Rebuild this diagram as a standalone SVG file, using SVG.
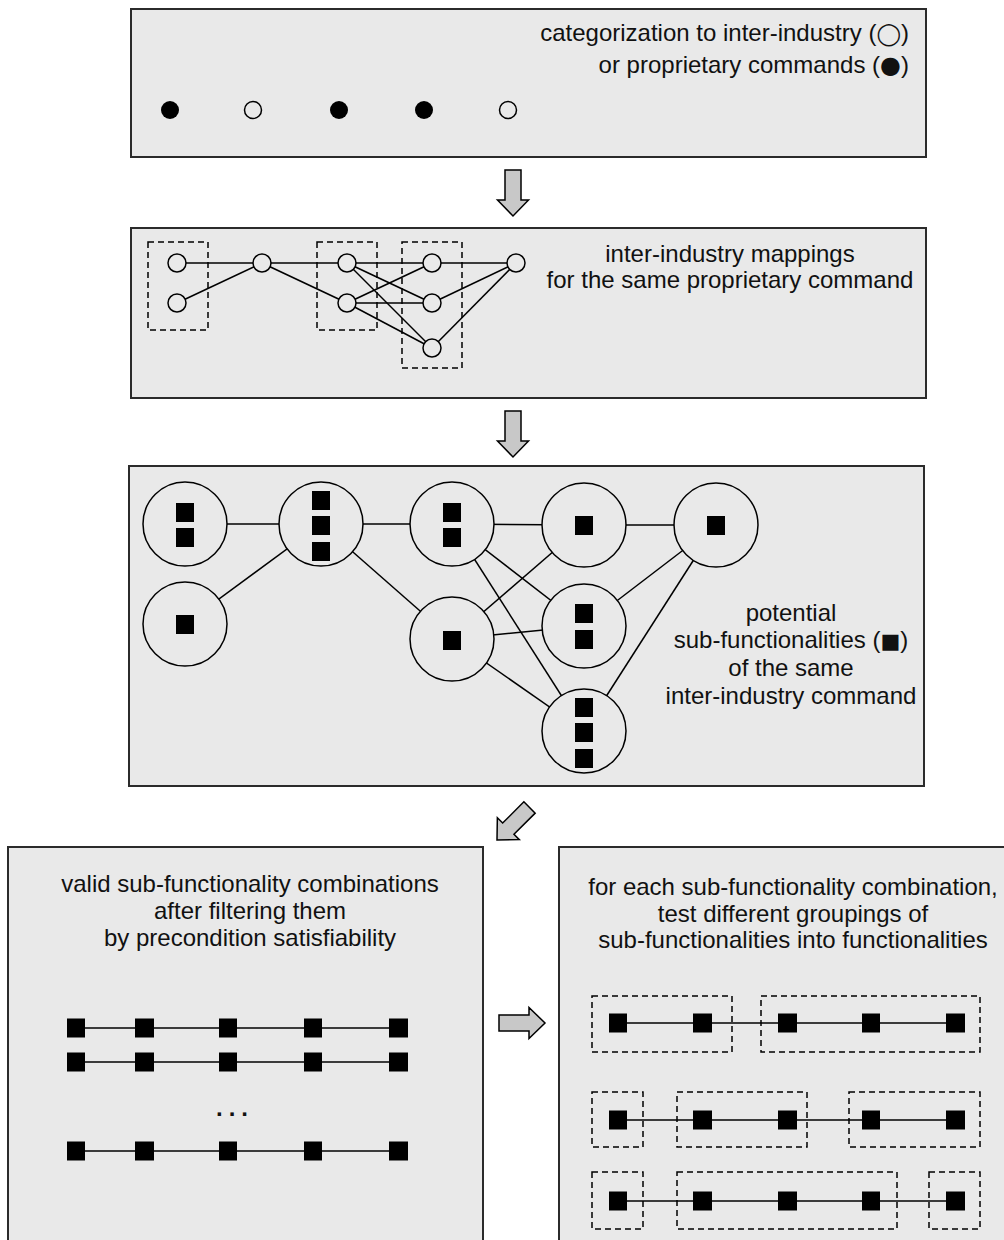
<svg xmlns="http://www.w3.org/2000/svg" xmlns:xlink="http://www.w3.org/1999/xlink" width="1004" height="1240" viewBox="0 0 1004 1240">
  <style>
    .box { fill:#e9e9e9; stroke:#2b2b2b; stroke-width:2; }
    .edge { stroke:#000; stroke-width:1.5; fill:none; }
    .dash { fill:none; stroke:#000; stroke-width:1.5; stroke-dasharray:6 4; }
    .node { fill:#e9e9e9; stroke:#000; stroke-width:1.5; }
    .dot { fill:#000; }
    .sq { fill:#000; }
    .txt { font-family:"Liberation Sans","DejaVu Sans",sans-serif; font-size:24px; fill:#111; }
    .sym { font-family:"DejaVu Sans",sans-serif; }
    .arrow { fill:#c8c8c8; stroke:#000; stroke-width:1.5; stroke-linejoin:miter; }
  </style>
  <defs>
    <!-- block arrow, tip at origin, pointing +y -->
    <path id="blockArrow" d="M -8,-46 L 8,-46 L 8,-16 L 15.5,-16 L 0,0 L -15.5,-16 L -8,-16 Z"/>
  </defs>

  <!-- stage 1: command categorization -->
  <g id="stage1">
    <rect class="box" x="131" y="9" width="795" height="148"/>
    <text class="txt" x="909" y="41" text-anchor="end">categorization to inter-industry (<tspan class="sym" font-size="22">◯</tspan>)</text>
    <text class="txt" x="909" y="73" text-anchor="end">or proprietary commands (<tspan class="sym" font-size="24">●</tspan>)</text>
    <circle class="dot" cx="170" cy="110" r="9"/>
    <circle class="node" cx="253" cy="110" r="8.5" style="fill:none"/>
    <circle class="dot" cx="339" cy="110" r="9"/>
    <circle class="dot" cx="424" cy="110" r="9"/>
    <circle class="node" cx="508" cy="110" r="8.5" style="fill:none"/>
  </g>

  <!-- stage 2: inter-industry mappings -->
  <g id="stage2">
    <rect class="box" x="131" y="228" width="795" height="170"/>
    <text class="txt" x="730" y="262" text-anchor="middle">inter-industry mappings</text>
    <text class="txt" x="730" y="288" text-anchor="middle">for the same proprietary command</text>
    <rect class="dash" x="148" y="242" width="60" height="88"/>
    <rect class="dash" x="317" y="242" width="60" height="88"/>
    <rect class="dash" x="402" y="242" width="60" height="126"/>
    <g id="stage2-edges">
      <line class="edge" x1="177" y1="263" x2="262" y2="263"/>
      <line class="edge" x1="177" y1="303" x2="262" y2="263"/>
      <line class="edge" x1="262" y1="263" x2="347" y2="263"/>
      <line class="edge" x1="262" y1="263" x2="347" y2="303"/>
      <line class="edge" x1="347" y1="263" x2="432" y2="263"/>
      <line class="edge" x1="347" y1="263" x2="432" y2="303"/>
      <line class="edge" x1="347" y1="263" x2="432" y2="348"/>
      <line class="edge" x1="347" y1="303" x2="432" y2="263"/>
      <line class="edge" x1="347" y1="303" x2="432" y2="303"/>
      <line class="edge" x1="347" y1="303" x2="432" y2="348"/>
      <line class="edge" x1="432" y1="263" x2="516" y2="263"/>
      <line class="edge" x1="432" y1="303" x2="516" y2="263"/>
      <line class="edge" x1="432" y1="348" x2="516" y2="263"/>
    </g>
    <circle class="node" cx="177" cy="263" r="9"/>
    <circle class="node" cx="177" cy="303" r="9"/>
    <circle class="node" cx="262" cy="263" r="9"/>
    <circle class="node" cx="347" cy="263" r="9"/>
    <circle class="node" cx="347" cy="303" r="9"/>
    <circle class="node" cx="432" cy="263" r="9"/>
    <circle class="node" cx="432" cy="303" r="9"/>
    <circle class="node" cx="432" cy="348" r="9"/>
    <circle class="node" cx="516" cy="263" r="9"/>
  </g>

  <!-- stage 3: potential sub-functionalities -->
  <g id="stage3">
    <rect class="box" x="129" y="466" width="795" height="320"/>
    <g id="stage3-edges">
      <line class="edge" x1="185" y1="524" x2="321" y2="524"/>
      <line class="edge" x1="185" y1="624" x2="321" y2="524"/>
      <line class="edge" x1="321" y1="524" x2="452" y2="524"/>
      <line class="edge" x1="321" y1="524" x2="452" y2="639"/>
      <line class="edge" x1="452" y1="524" x2="584" y2="525"/>
      <line class="edge" x1="452" y1="524" x2="584" y2="626"/>
      <line class="edge" x1="452" y1="524" x2="584" y2="731"/>
      <line class="edge" x1="452" y1="639" x2="584" y2="525"/>
      <line class="edge" x1="452" y1="639" x2="584" y2="626"/>
      <line class="edge" x1="452" y1="639" x2="584" y2="731"/>
      <line class="edge" x1="584" y1="525" x2="716" y2="525"/>
      <line class="edge" x1="584" y1="626" x2="716" y2="525"/>
      <line class="edge" x1="584" y1="731" x2="716" y2="525"/>
    </g>
    <g id="cmd-a">
      <circle class="node" cx="185" cy="524" r="42"/>
      <rect class="sq" x="176" y="503" width="18" height="19"/>
      <rect class="sq" x="176" y="528" width="18" height="19"/>
    </g>
    <g id="cmd-b">
      <circle class="node" cx="185" cy="624" r="42"/>
      <rect class="sq" x="176" y="615" width="18" height="19"/>
    </g>
    <g id="cmd-c">
      <circle class="node" cx="321" cy="524" r="42"/>
      <rect class="sq" x="312" y="491" width="18" height="19"/>
      <rect class="sq" x="312" y="516" width="18" height="19"/>
      <rect class="sq" x="312" y="542" width="18" height="19"/>
    </g>
    <g id="cmd-d">
      <circle class="node" cx="452" cy="524" r="42"/>
      <rect class="sq" x="443" y="503" width="18" height="19"/>
      <rect class="sq" x="443" y="528" width="18" height="19"/>
    </g>
    <g id="cmd-e">
      <circle class="node" cx="452" cy="639" r="42"/>
      <rect class="sq" x="443" y="631" width="18" height="19"/>
    </g>
    <g id="cmd-f">
      <circle class="node" cx="584" cy="525" r="42"/>
      <rect class="sq" x="575" y="516" width="18" height="19"/>
    </g>
    <g id="cmd-g">
      <circle class="node" cx="584" cy="626" r="42"/>
      <rect class="sq" x="575" y="604" width="18" height="19"/>
      <rect class="sq" x="575" y="630" width="18" height="19"/>
    </g>
    <g id="cmd-h">
      <circle class="node" cx="584" cy="731" r="42"/>
      <rect class="sq" x="575" y="698" width="18" height="19"/>
      <rect class="sq" x="575" y="723" width="18" height="19"/>
      <rect class="sq" x="575" y="749" width="18" height="19"/>
    </g>
    <g id="cmd-i">
      <circle class="node" cx="716" cy="525" r="42"/>
      <rect class="sq" x="707" y="516" width="18" height="19"/>
    </g>
    <text class="txt" x="791" y="621" text-anchor="middle">potential</text>
    <text class="txt" x="791" y="648" text-anchor="middle">sub-functionalities (<tspan class="sym" font-size="21">■</tspan>)</text>
    <text class="txt" x="791" y="676" text-anchor="middle">of the same</text>
    <text class="txt" x="791" y="704" text-anchor="middle">inter-industry command</text>
  </g>

  <!-- stage 4: valid combinations -->
  <g id="stage4">
    <rect class="box" x="8" y="847" width="475" height="410"/>
    <text class="txt" x="250" y="892" text-anchor="middle">valid sub-functionality combinations</text>
    <text class="txt" x="250" y="919" text-anchor="middle">after filtering them</text>
    <text class="txt" x="250" y="946" text-anchor="middle">by precondition satisfiability</text>
    <g id="combo-1">
      <line class="edge" x1="76" y1="1028" x2="398" y2="1028"/>
      <rect class="sq" x="67" y="1018.5" width="18" height="19"/>
      <rect class="sq" x="135" y="1018.5" width="19" height="19"/>
      <rect class="sq" x="219" y="1018.5" width="18" height="19"/>
      <rect class="sq" x="304" y="1018.5" width="18" height="19"/>
      <rect class="sq" x="389" y="1018.5" width="19" height="19"/>
    </g>
    <g id="combo-2">
      <line class="edge" x1="76" y1="1062" x2="398" y2="1062"/>
      <rect class="sq" x="67" y="1052.5" width="18" height="19"/>
      <rect class="sq" x="135" y="1052.5" width="19" height="19"/>
      <rect class="sq" x="219" y="1052.5" width="18" height="19"/>
      <rect class="sq" x="304" y="1052.5" width="18" height="19"/>
      <rect class="sq" x="389" y="1052.5" width="19" height="19"/>
    </g>
    <text class="txt" x="235" y="1116" text-anchor="middle" font-weight="bold" letter-spacing="6">...</text>
    <g id="combo-n">
      <line class="edge" x1="76" y1="1151" x2="398" y2="1151"/>
      <rect class="sq" x="67" y="1141.5" width="18" height="19"/>
      <rect class="sq" x="135" y="1141.5" width="19" height="19"/>
      <rect class="sq" x="219" y="1141.5" width="18" height="19"/>
      <rect class="sq" x="304" y="1141.5" width="18" height="19"/>
      <rect class="sq" x="389" y="1141.5" width="19" height="19"/>
    </g>
  </g>

  <!-- stage 5: groupings into functionalities -->
  <g id="stage5">
    <rect class="box" x="559" y="847" width="460" height="410"/>
    <text class="txt" x="793" y="895" text-anchor="middle">for each sub-functionality combination,</text>
    <text class="txt" x="793" y="922" text-anchor="middle">test different groupings of</text>
    <text class="txt" x="793" y="948" text-anchor="middle">sub-functionalities into functionalities</text>
    <g id="grouping-1">
      <line class="edge" x1="618" y1="1023" x2="955" y2="1023"/>
      <rect class="dash" x="592" y="996" width="140" height="56"/>
      <rect class="dash" x="761" y="996" width="219" height="56"/>
      <rect class="sq" x="609" y="1013.5" width="18" height="19"/>
      <rect class="sq" x="693" y="1013.5" width="19" height="19"/>
      <rect class="sq" x="778" y="1013.5" width="19" height="19"/>
      <rect class="sq" x="862" y="1013.5" width="18" height="19"/>
      <rect class="sq" x="946" y="1013.5" width="19" height="19"/>
    </g>
    <g id="grouping-2">
      <line class="edge" x1="618" y1="1120" x2="955" y2="1120"/>
      <rect class="dash" x="592" y="1092" width="51" height="55"/>
      <rect class="dash" x="677" y="1092" width="130" height="55"/>
      <rect class="dash" x="849" y="1092" width="131" height="55"/>
      <rect class="sq" x="609" y="1110.5" width="18" height="19"/>
      <rect class="sq" x="693" y="1110.5" width="19" height="19"/>
      <rect class="sq" x="778" y="1110.5" width="19" height="19"/>
      <rect class="sq" x="862" y="1110.5" width="18" height="19"/>
      <rect class="sq" x="946" y="1110.5" width="19" height="19"/>
    </g>
    <g id="grouping-3">
      <line class="edge" x1="618" y1="1201" x2="955" y2="1201"/>
      <rect class="dash" x="592" y="1172" width="51" height="57"/>
      <rect class="dash" x="677" y="1172" width="220" height="57"/>
      <rect class="dash" x="929" y="1172" width="51" height="57"/>
      <rect class="sq" x="609" y="1191.5" width="18" height="19"/>
      <rect class="sq" x="693" y="1191.5" width="19" height="19"/>
      <rect class="sq" x="778" y="1191.5" width="19" height="19"/>
      <rect class="sq" x="862" y="1191.5" width="18" height="19"/>
      <rect class="sq" x="946" y="1191.5" width="19" height="19"/>
    </g>
  </g>

  <!-- flow arrows between stages -->
  <g id="flow-arrows">
    <use xlink:href="#blockArrow" href="#blockArrow" class="arrow" transform="translate(513,216)"/>
    <use xlink:href="#blockArrow" href="#blockArrow" class="arrow" transform="translate(513,457)"/>
    <use xlink:href="#blockArrow" href="#blockArrow" class="arrow" transform="translate(497,840) rotate(45)"/>
    <use xlink:href="#blockArrow" href="#blockArrow" class="arrow" transform="translate(545,1023) rotate(-90)"/>
  </g>
</svg>
